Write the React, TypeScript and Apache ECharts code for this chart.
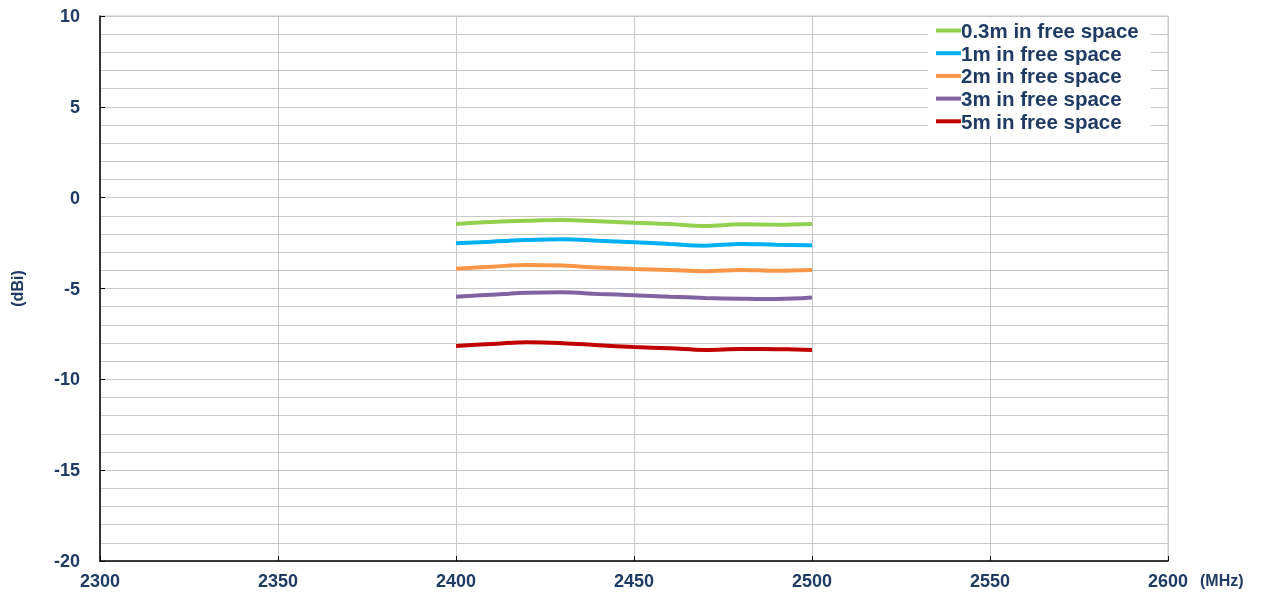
import React, { useEffect, useRef } from "react";
import * as echarts from "echarts";

const freqs = [2400, 2410, 2420, 2430, 2440, 2450, 2460, 2470, 2480, 2490, 2500];
const seriesNames = [
  "0.3m in free space",
  "1m in free space",
  "2m in free space",
  "3m in free space",
  "5m in free space",
];
const gain03 = [-1.45, -1.34, -1.27, -1.23, -1.3, -1.38, -1.45, -1.56, -1.47, -1.49, -1.45];
const gain1 = [-2.51, -2.42, -2.33, -2.29, -2.37, -2.45, -2.55, -2.64, -2.55, -2.59, -2.62];
const gain2 = [-3.91, -3.8, -3.7, -3.74, -3.85, -3.92, -3.98, -4.05, -3.98, -4.02, -3.98];
const gain3 = [-5.45, -5.34, -5.24, -5.21, -5.3, -5.37, -5.45, -5.52, -5.56, -5.58, -5.5];
const gain5 = [-8.16, -8.05, -7.96, -8.01, -8.12, -8.22, -8.29, -8.38, -8.33, -8.34, -8.38];
const seriesColors = ["#92D050", "#00B0F0", "#F79646", "#8064A2", "#C00000"];

const textColor = "#1F3B63";
const gridColor = "#C8C8C8";
const font = "'Liberation Sans', Arial, sans-serif";

export default function App() {
  const ref = useRef<HTMLDivElement>(null);
  useEffect(() => {
    if (!ref.current) return;
    const chart = echarts.init(ref.current, undefined, { renderer: "svg" });
    const all = [gain03, gain1, gain2, gain3, gain5];
    chart.setOption({
      animation: false,
      grid: { left: 100, right: 96, top: 16, bottom: 35, show: true, borderColor: gridColor, borderWidth: 1 },
      legend: {
        orient: "vertical",
        left: 928,
        top: 18,
        backgroundColor: "#ffffff",
        padding: [2, 12, 4, 8],
        itemGap: 1.7,
        itemWidth: 25,
        itemHeight: 4,
        icon: "rect",
        data: seriesNames,
        textStyle: {
          color: textColor,
          fontFamily: font,
          fontWeight: "bold",
          fontSize: 20.5,
          lineHeight: 20,
          padding: [0, 0, 0, -5],
        },
      },
      xAxis: {
        type: "value",
        min: 2300,
        max: 2600,
        interval: 50,
        axisLine: { show: true, onZero: false, lineStyle: { color: "#000", width: 1.5 } },
        axisTick: { show: true, inside: true, length: 5, lineStyle: { color: "#000" } },
        axisLabel: {
          color: textColor,
          fontFamily: font,
          fontWeight: "bold",
          fontSize: 18,
          margin: 11,
          formatter: (v: number) => String(v),
        },
        splitLine: { show: true, lineStyle: { color: gridColor, width: 1 } },
        name: "(MHz)",
        nameLocation: "end",
        nameGap: 32,
        nameTextStyle: {
          color: textColor,
          fontFamily: font,
          fontWeight: "bold",
          fontSize: 16,
          align: "left",
          verticalAlign: "top",
          padding: [11, 0, 0, 0],
        },
      },
      yAxis: {
        type: "value",
        min: -20,
        max: 10,
        interval: 5,
        axisLine: { show: true, onZero: false, lineStyle: { color: "#000", width: 1.5 } },
        axisTick: { show: true, inside: true, length: 5, lineStyle: { color: "#000" } },
        axisLabel: { color: textColor, fontFamily: font, fontWeight: "bold", fontSize: 18, margin: 20 },
        splitLine: { show: true, lineStyle: { color: gridColor, width: 1 } },
        minorTick: { show: false, splitNumber: 5 },
        minorSplitLine: { show: true, lineStyle: { color: gridColor, width: 1 } },
        name: "(dBi)",
        nameLocation: "middle",
        nameGap: 75,
        nameRotate: 90,
        nameTextStyle: { color: textColor, fontFamily: font, fontWeight: "bold", fontSize: 16 },
      },
      series: seriesNames.map((name, i) => ({
        name,
        type: "line",
        smooth: 0.4,
        symbol: "none",
        data: freqs.map((f, j) => [f, all[i][j]]),
        lineStyle: { color: seriesColors[i], width: 4 },
        itemStyle: { color: seriesColors[i] },
      })),
    });
    return () => chart.dispose();
  }, []);
  return <div ref={ref} style={{ position: "fixed", left: 0, top: 0, width: 1264, height: 596 }} />;
}
